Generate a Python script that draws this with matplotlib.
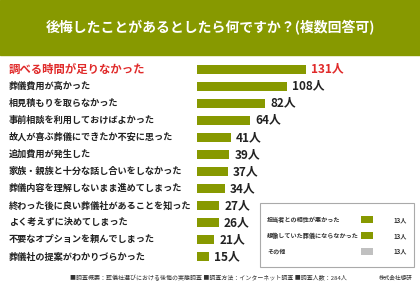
import matplotlib

matplotlib.use("Agg")
import matplotlib.pyplot as plt  # noqa: E402
from matplotlib.patches import Rectangle  # noqa: E402
from matplotlib.transforms import blended_transform_factory  # noqa: E402

plt.rcParams["font.family"] = ["Noto Sans CJK JP", "DejaVu Sans"]

TITLE = "後悔したことがあるとしたら何ですか？(複数回答可)"
reasons = [
    "調べる時間が足りなかった",
    "葬儀費用が高かった",
    "相見積もりを取らなかった",
    "事前相談を利用しておけばよかった",
    "故人が喜ぶ葬儀にできたか不安に思った",
    "追加費用が発生した",
    "家族・親族と十分な話し合いをしなかった",
    "葬儀内容を理解しないまま進めてしまった",
    "終わった後に良い葬儀社があることを知った",
    "よく考えずに決めてしまった",
    "不要なオプションを頼んでしまった",
    "葬儀社の提案がわかりづらかった",
]
counts = [131, 108, 82, 64, 41, 39, 37, 34, 27, 26, 21, 15]
other_reasons = ["担当者との相性が悪かった", "想像していた葬儀にならなかった", "その他"]
other_counts = [13, 13, 13]
FOOTER = "■調査概要：葬儀社選びにおける後悔の実態調査 ■調査方法：インターネット調査 ■調査人数：284人"
COMPANY = "株式会社想研"

GREEN = "#879900"
RED = "#e02a2a"
W, H = 420, 286

fig = plt.figure(figsize=(W / 100, H / 100), dpi=100)
fig.patch.set_facecolor("white")


def fx(px):
    return px / W


def fy(py):
    return 1 - py / H


# title band
fig.patches.append(Rectangle((0, fy(55)), 1, 55 / H, transform=fig.transFigure,
                             color=GREEN, zorder=0))
fig.text(0.5, fy(28), TITLE, color="white", fontsize=10, fontweight="bold",
         ha="center", va="center")

# main bar chart
top, bottom = 60.5, 265.5
ax = fig.add_axes([fx(197), fy(bottom), fx(223), (bottom - top) / H])
ypos = list(range(len(counts)))
ax.barh(ypos, counts, height=0.53, color=GREEN)
ax.set_xlim(0, 223 / 109 * 131)
ax.set_ylim(len(counts) - 0.5, -0.5)
ax.axis("off")

tr = blended_transform_factory(fig.transFigure, ax.transData)
for i, (name, n) in enumerate(zip(reasons, counts)):
    first = i == 0
    ax.text(fx(9), i, name, transform=tr, ha="left", va="center",
            fontsize=8.2 if first else 6.6, fontweight="bold",
            color=RED if first else "#222222")
    ax.annotate(f"{n}人", (n, i), xytext=(3.5, 0), textcoords="offset points",
                ha="left", va="center", fontsize=8.5, fontweight="bold",
                color=RED if first else "#222222")

# inset box with other answers
fig.patches.append(Rectangle((fx(260), fy(267)), fx(154), 64 / H,
                             transform=fig.transFigure, fill=False,
                             edgecolor="#aaaaaa", linewidth=0.8))
iax = fig.add_axes([fx(361), fy(259), fx(53), 47 / H])
colors = [GREEN, GREEN, "#c0c0c0"]
iy = list(range(len(other_counts)))
iax.barh(iy, other_counts, height=0.45, color=colors)
iax.set_xlim(0, 53 / 12 * 13)
iax.set_ylim(len(other_counts) - 0.5, -0.5)
iax.axis("off")
itr = blended_transform_factory(fig.transFigure, iax.transData)
for i, (name, n) in enumerate(zip(other_reasons, other_counts)):
    iax.text(fx(267), i, name, transform=itr, ha="left", va="center",
             fontsize=4.4, fontweight="bold", color="#333333")
    iax.text(fx(393), i, f"{n}人", transform=itr, ha="left", va="center",
             fontsize=4.4, fontweight="bold", color="#333333")

# footer
fig.text(fx(70), fy(278), FOOTER, fontsize=4.3, color="#333333", ha="left", va="center")
fig.text(fx(413), fy(278), COMPANY, fontsize=4.1, color="#333333", ha="right", va="center")

fig.savefig("out.png", dpi=100)
